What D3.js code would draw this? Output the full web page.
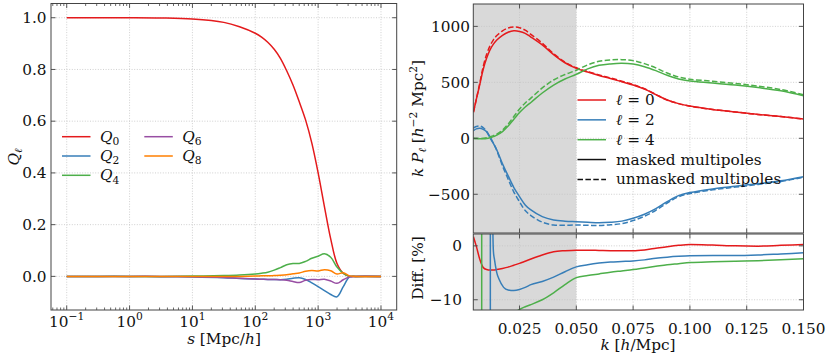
<!DOCTYPE html>
<html><head><meta charset="utf-8">
<script src="https://cdn.jsdelivr.net/npm/d3@7/dist/d3.min.js"></script>
<style>
body{margin:0;background:#fff}
svg{display:block}
text{font-family:"DejaVu Serif",serif;fill:#111}
</style>
</head><body>
<svg id="c" width="831" height="359"></svg>
<script>
// ---------- Left panel data: window multipoles Q_l(s) ----------
const sVals = [0.1, 0.316, 1, 3.16, 10, 31.6, 56.2, 100, 126, 158, 200, 251, 316, 398, 501, 631, 794, 1000, 1259, 1585, 1995, 2512, 3162, 3981, 10000];
const Q0 = [1.0, 1.0, 1.0, 0.999, 0.995, 0.982, 0.965, 0.940, 0.925, 0.905, 0.878, 0.843, 0.795, 0.740, 0.675, 0.605, 0.515, 0.400, 0.270, 0.145, 0.050, 0.012, 0.0, 0.0, 0.0];
const Q2 = [0, 0, 0, -0.001, -0.002, -0.005, -0.008, -0.010, -0.011, -0.012, -0.012, -0.013, -0.011, -0.007, -0.005, -0.012, -0.025, -0.040, -0.055, -0.070, -0.079, -0.040, -0.002, 0, 0];
const Q4 = [0, 0, 0, 0, 0.001, 0.003, 0.005, 0.009, 0.012, 0.016, 0.024, 0.034, 0.045, 0.050, 0.050, 0.058, 0.070, 0.078, 0.087, 0.074, 0.036, 0.012, 0.0, 0, 0];
const Q6 = [0, 0, 0, 0, -0.001, -0.004, -0.007, -0.010, -0.011, -0.012, -0.012, -0.013, -0.015, -0.020, -0.024, -0.015, -0.012, -0.013, -0.011, -0.018, -0.027, -0.013, -0.002, 0, 0];
const Q8 = [0, 0, 0, 0, 0, 0, 0, 0.001, 0.002, 0.002, 0.003, 0.004, 0.006, 0.010, 0.013, 0.020, 0.023, 0.021, 0.026, 0.022, 0.009, 0.014, 0.002, 0, 0];
const qNames = ["0", "2", "4", "6", "8"];
const sTicks = [0.1, 1, 10, 100, 1000, 10000];
const sTickExp = ["\u22121", "0", "1", "2", "3", "4"];
const qTicks = [0.0, 0.2, 0.4, 0.6, 0.8, 1.0];

// ---------- Right panel data: k P_l(k) ----------
const kVals = [0.0047, 0.006, 0.0075, 0.009, 0.0105, 0.012, 0.0135, 0.015, 0.0175, 0.02, 0.0225, 0.025, 0.0275, 0.03, 0.035, 0.04, 0.045, 0.05, 0.055, 0.06, 0.065, 0.07, 0.075, 0.08, 0.085, 0.09, 0.095, 0.1, 0.11, 0.12, 0.13, 0.14, 0.15];
const P0masked   = [235, 350, 480, 615, 715, 790, 842, 878, 920, 948, 960, 955, 938, 905, 835, 748, 675, 625, 592, 562, 535, 505, 476, 440, 390, 342, 310, 288, 258, 235, 213, 195, 172];
const P0unmasked = [231, 351, 492, 640, 748, 826, 880, 918, 960, 986, 995, 988, 966, 928, 850, 756, 681, 630, 597, 567, 540, 510, 480, 443, 392, 342, 310, 287, 258, 235, 213, 195, 172];
const P2masked   = [68, 84, 89, 80, 60, 14, -45, -104, -228, -336, -440, -521, -595, -640, -700, -729, -740, -745, -750, -754, -750, -740, -714, -678, -628, -566, -512, -485, -452, -428, -405, -380, -343];
const P2unmasked = [92, 106, 110, 95, 62, 3, -46, -110, -246, -365, -480, -567, -645, -690, -749, -774, -776, -775, -777, -779, -773, -762, -735, -696, -643, -578, -522, -494, -460, -436, -412, -386, -348];
const P4masked   = [0, -2, -3, -3, -1, 5, 15, 28, 60, 110, 170, 230, 280, 320, 405, 476, 530, 572, 620, 652, 665, 670, 663, 640, 605, 563, 530, 512, 495, 476, 453, 425, 380];
const P4unmasked = [-1, -2, -1.5, 1, 5, 13, 24, 36, 73, 128, 195, 261, 316, 359, 450, 521, 570, 608, 656, 688, 700, 703, 694, 667, 629, 583, 548, 528, 510, 490, 466, 436, 389];
const pTicks = [-500, 0, 500, 1000];
const kTicks = [0.025, 0.05, 0.075, 0.1, 0.125, 0.15];
const maskEdge = 0.05;

// ---------- Relative difference [%] ----------
const kDiff0 = kVals;
const Diff0 = [1.7, -0.1, -2.5, -4.0, -4.4, -4.5, -4.5, -4.4, -4.2, -3.95, -3.6, -3.25, -2.85, -2.45, -1.7, -1.1, -0.9, -0.8, -0.8, -0.85, -0.9, -0.9, -0.9, -0.75, -0.45, -0.15, 0.1, 0.25, 0.15, 0.0, -0.05, 0.1, 0.25];
const kDiff2 = [0.0047, 0.006, 0.0075, 0.009, 0.0105, 0.012, 0.0121, 0.0122, 0.0127, 0.013, 0.0132, 0.0135, 0.014, 0.015, 0.016, 0.018, 0.02, 0.0225, 0.025, 0.0275, 0.03, 0.035, 0.04, 0.045, 0.05, 0.055, 0.06, 0.065, 0.07, 0.075, 0.08, 0.085, 0.09, 0.095, 0.1, 0.11, 0.12, 0.13, 0.14, 0.15];
const Diff2 = [-30, -22, -20, -25, -45, -300, -3000, 3000, 300, 30, 5, -1.0, -2.6, -5.0, -6.2, -7.7, -8.2, -8.3, -8.1, -7.7, -7.2, -6.6, -5.8, -4.8, -3.9, -3.5, -3.2, -3.0, -2.9, -2.8, -2.6, -2.3, -2.1, -1.95, -1.85, -1.8, -1.8, -1.7, -1.5, -1.3];
const kDiff4 = [0.0047, 0.006, 0.0075, 0.0083, 0.0084, 0.009, 0.0105, 0.012, 0.0135, 0.015, 0.0175, 0.02, 0.0225, 0.025, 0.0275, 0.03, 0.035, 0.04, 0.045, 0.05, 0.055, 0.06, 0.065, 0.07, 0.075, 0.08, 0.085, 0.09, 0.095, 0.1, 0.11, 0.12, 0.13, 0.14, 0.15];
const Diff4 = [60, 100, 250, 3000, -3000, -400, -120, -60, -35, -25, -18, -14.5, -12.6, -11.8, -11.3, -10.9, -10.0, -8.7, -7.2, -5.9, -5.5, -5.2, -4.9, -4.65, -4.4, -4.1, -3.8, -3.5, -3.3, -3.1, -2.95, -2.85, -2.75, -2.6, -2.4];
const diffTicks = [-10, 0];

const colors = {red:"#e41a1c", blue:"#377eb8", green:"#4daf4a", purple:"#984ea3", orange:"#ff7f00"};
const FS = 15.3;
const svg = d3.select("#c");
const SPINE = "#444", GRID = "#c4c4c4";

// rich text helper: parts [{t, it, sub, sup}]
function rich(sel, parts, fs) {
  let cur = 0;
  parts.forEach(p => {
    const target = p.sub ? fs * 0.22 : p.sup ? -fs * 0.42 : 0;
    const ts = sel.append("tspan").text(p.t).attr("dy", target - cur);
    cur = target;
    if (p.it) ts.attr("font-style", "italic");
    if (p.sub || p.sup) ts.attr("font-size", fs * 0.7);
  });
  return sel;
}

// ================= LEFT PANEL =================
const L = {x0: 51, x1: 396.7, y0: 3.5, y1: 310};
const xs = d3.scaleLog().domain([Math.pow(10, -1.25), Math.pow(10, 4.25)]).range([L.x0, L.x1]);
const yq = d3.scaleLinear().domain([-0.13, 1.055]).range([L.y1, L.y0]);
const gL = svg.append("g");
svg.append("clipPath").attr("id", "clipL").append("rect")
  .attr("x", L.x0).attr("y", L.y0).attr("width", L.x1 - L.x0).attr("height", L.y1 - L.y0);

// grid
sTicks.forEach(v => gL.append("line").attr("x1", xs(v)).attr("x2", xs(v)).attr("y1", L.y0).attr("y2", L.y1)
  .attr("stroke", GRID).attr("stroke-width", 0.8).attr("stroke-dasharray", "1,1.6"));
qTicks.forEach(v => gL.append("line").attr("x1", L.x0).attr("x2", L.x1).attr("y1", yq(v)).attr("y2", yq(v))
  .attr("stroke", GRID).attr("stroke-width", 0.8).attr("stroke-dasharray", "1,1.6"));

const lineQ = d3.line().x(d => xs(d[0])).y(d => yq(d[1])).curve(d3.curveCatmullRom.alpha(0.5));
const qSeries = [[Q0, colors.red], [Q2, colors.blue], [Q4, colors.green], [Q6, colors.purple], [Q8, colors.orange]];
const gLc = gL.append("g").attr("clip-path", "url(#clipL)");
qSeries.forEach(([arr, c]) => {
  gLc.append("path").attr("d", lineQ(sVals.map((s, i) => [s, arr[i]])))
    .attr("fill", "none").attr("stroke", c).attr("stroke-width", 1.5);
});

// spines
gL.append("rect").attr("x", L.x0).attr("y", L.y0).attr("width", L.x1 - L.x0).attr("height", L.y1 - L.y0)
  .attr("fill", "none").attr("stroke", SPINE).attr("stroke-width", 1);

// ticks
const minorS = [];
for (let e = -2; e <= 4; e++) for (let m = 2; m <= 9; m++) {
  const v = m * Math.pow(10, e);
  if (xs(v) > L.x0 && xs(v) < L.x1) minorS.push(v);
}
minorS.forEach(v => {
  gL.append("line").attr("x1", xs(v)).attr("x2", xs(v)).attr("y1", L.y1).attr("y2", L.y1 - 2.5).attr("stroke", SPINE).attr("stroke-width", 0.8);
  gL.append("line").attr("x1", xs(v)).attr("x2", xs(v)).attr("y1", L.y0).attr("y2", L.y0 + 2.5).attr("stroke", SPINE).attr("stroke-width", 0.8);
});
sTicks.forEach((v, i) => {
  gL.append("line").attr("x1", xs(v)).attr("x2", xs(v)).attr("y1", L.y1).attr("y2", L.y1 - 4.5).attr("stroke", SPINE).attr("stroke-width", 0.9);
  gL.append("line").attr("x1", xs(v)).attr("x2", xs(v)).attr("y1", L.y0).attr("y2", L.y0 + 4.5).attr("stroke", SPINE).attr("stroke-width", 0.9);
  const t = gL.append("text").attr("x", xs(v)).attr("y", 326.5).attr("text-anchor", "middle").attr("font-size", FS);
  rich(t, [{t: "10"}, {t: sTickExp[i], sup: true}], FS);
});
qTicks.forEach(v => {
  gL.append("line").attr("x1", L.x0).attr("x2", L.x0 + 4.5).attr("y1", yq(v)).attr("y2", yq(v)).attr("stroke", SPINE).attr("stroke-width", 0.9);
  gL.append("line").attr("x1", L.x1).attr("x2", L.x1 - 4.5).attr("y1", yq(v)).attr("y2", yq(v)).attr("stroke", SPINE).attr("stroke-width", 0.9);
  gL.append("text").attr("x", 46.5).attr("y", yq(v) + 5.3).attr("text-anchor", "end").attr("font-size", FS).text(v.toFixed(1));
});
// axis labels
rich(gL.append("text").attr("x", 224).attr("y", 344).attr("text-anchor", "middle").attr("font-size", FS),
  [{t: "s", it: true}, {t: " [Mpc/"}, {t: "h", it: true}, {t: "]"}], FS);
rich(gL.append("text").attr("transform", "translate(19,157) rotate(-90)").attr("text-anchor", "middle").attr("font-size", FS),
  [{t: "Q", it: true}, {t: "\u2113", it: true, sub: true}], FS);

// legend
const legPos = [[62, 136.7], [62, 156], [62, 175.3], [144.3, 136.7], [144.3, 156]];
qSeries.forEach(([arr, c], i) => {
  const [lx, ly] = legPos[i];
  gL.append("line").attr("x1", lx).attr("x2", lx + 28.5).attr("y1", ly).attr("y2", ly).attr("stroke", c).attr("stroke-width", 1.5);
  rich(gL.append("text").attr("x", lx + 38).attr("y", ly + 5).attr("font-size", FS),
    [{t: "Q", it: true}, {t: qNames[i], sub: true}], FS);
});

// ================= RIGHT PANELS =================
const R = {x0: 473.3, x1: 803.5, yt0: 4, yt1: 233, yb0: 234, yb1: 310};
const xk = d3.scaleLinear().domain([0.00465, 0.15]).range([R.x0, R.x1]);
const yp = d3.scaleLinear().domain([-846, 1200]).range([R.yt1, R.yt0]);
const yd = d3.scaleLinear().domain([-11.9, 2.2]).range([R.yb1, R.yb0]);
const gR = svg.append("g");
svg.append("clipPath").attr("id", "clipRT").append("rect")
  .attr("x", R.x0).attr("y", R.yt0).attr("width", R.x1 - R.x0).attr("height", R.yt1 - R.yt0);
svg.append("clipPath").attr("id", "clipRB").append("rect")
  .attr("x", R.x0).attr("y", R.yb0).attr("width", R.x1 - R.x0).attr("height", R.yb1 - R.yb0);

// masked region shading
gR.append("rect").attr("x", R.x0).attr("y", R.yt0).attr("width", xk(maskEdge) - R.x0).attr("height", R.yt1 - R.yt0).attr("fill", "#d9d9d9");
gR.append("rect").attr("x", R.x0).attr("y", R.yb0).attr("width", xk(maskEdge) - R.x0).attr("height", R.yb1 - R.yb0).attr("fill", "#d9d9d9");

// grids
kTicks.filter(v => v < 0.149).forEach(v => {
  [[R.yt0, R.yt1], [R.yb0, R.yb1]].forEach(([a, b]) =>
    gR.append("line").attr("x1", xk(v)).attr("x2", xk(v)).attr("y1", a).attr("y2", b)
      .attr("stroke", GRID).attr("stroke-width", 0.8).attr("stroke-dasharray", "1,1.6"));
});
pTicks.forEach(v => gR.append("line").attr("x1", R.x0).attr("x2", R.x1).attr("y1", yp(v)).attr("y2", yp(v))
  .attr("stroke", GRID).attr("stroke-width", 0.8).attr("stroke-dasharray", "1,1.6"));
diffTicks.forEach(v => gR.append("line").attr("x1", R.x0).attr("x2", R.x1).attr("y1", yd(v)).attr("y2", yd(v))
  .attr("stroke", GRID).attr("stroke-width", 0.8).attr("stroke-dasharray", "1,1.6"));

// curves top
const lineP = d3.line().x(d => xk(d[0])).y(d => yp(d[1])).curve(d3.curveCatmullRom.alpha(0.5));
const gRt = gR.append("g").attr("clip-path", "url(#clipRT)");
const pSeries = [
  [P0unmasked, colors.red, true], [P0masked, colors.red, false],
  [P2unmasked, colors.blue, true], [P2masked, colors.blue, false],
  [P4unmasked, colors.green, true], [P4masked, colors.green, false]
];
pSeries.forEach(([arr, c, dashed]) => {
  gRt.append("path").attr("d", lineP(kVals.map((k, i) => [k, arr[i]])))
    .attr("fill", "none").attr("stroke", c).attr("stroke-width", 1.5)
    .attr("stroke-dasharray", dashed ? "5.5,2.4" : null);
});

// curves bottom
const lineD = d3.line().x(d => xk(d[0])).y(d => yd(d[1])).curve(d3.curveMonotoneX);
const gRb = gR.append("g").attr("clip-path", "url(#clipRB)");
[[kDiff0, Diff0, colors.red], [kDiff2, Diff2, colors.blue], [kDiff4, Diff4, colors.green]].forEach(([ks, arr, c]) => {
  gRb.append("path").attr("d", lineD(ks.map((k, i) => [k, arr[i]])))
    .attr("fill", "none").attr("stroke", c).attr("stroke-width", 1.5);
});

// spines
gR.append("rect").attr("x", R.x0).attr("y", R.yt0).attr("width", R.x1 - R.x0).attr("height", R.yt1 - R.yt0)
  .attr("fill", "none").attr("stroke", SPINE).attr("stroke-width", 1);
gR.append("rect").attr("x", R.x0).attr("y", R.yb0).attr("width", R.x1 - R.x0).attr("height", R.yb1 - R.yb0)
  .attr("fill", "none").attr("stroke", SPINE).attr("stroke-width", 1);

// ticks
kTicks.forEach(v => {
  [[R.yt0, 1], [R.yt1, -1], [R.yb0, 1], [R.yb1, -1]].forEach(([y, d]) =>
    gR.append("line").attr("x1", xk(v)).attr("x2", xk(v)).attr("y1", y).attr("y2", y + d * 4.5).attr("stroke", SPINE).attr("stroke-width", 0.9));
  gR.append("text").attr("x", xk(v)).attr("y", 333.5).attr("text-anchor", "middle").attr("font-size", FS).text(v.toFixed(3));
});
const fmtMinus = v => (v < 0 ? "\u2212" : "") + Math.abs(v);
pTicks.forEach(v => {
  gR.append("line").attr("x1", R.x0).attr("x2", R.x0 + 4.5).attr("y1", yp(v)).attr("y2", yp(v)).attr("stroke", SPINE).attr("stroke-width", 0.9);
  gR.append("line").attr("x1", R.x1).attr("x2", R.x1 - 4.5).attr("y1", yp(v)).attr("y2", yp(v)).attr("stroke", SPINE).attr("stroke-width", 0.9);
  gR.append("text").attr("x", 470).attr("y", yp(v) + 5.3).attr("text-anchor", "end").attr("font-size", FS).text(fmtMinus(v));
});
diffTicks.forEach(v => {
  gR.append("line").attr("x1", R.x0).attr("x2", R.x0 + 4.5).attr("y1", yd(v)).attr("y2", yd(v)).attr("stroke", SPINE).attr("stroke-width", 0.9);
  gR.append("line").attr("x1", R.x1).attr("x2", R.x1 - 4.5).attr("y1", yd(v)).attr("y2", yd(v)).attr("stroke", SPINE).attr("stroke-width", 0.9);
  gR.append("text").attr("x", 462).attr("y", yd(v) + 5.3).attr("text-anchor", "end").attr("font-size", FS).text(fmtMinus(v));
});

// axis labels
rich(gR.append("text").attr("x", 638).attr("y", 350).attr("text-anchor", "middle").attr("font-size", FS),
  [{t: "k", it: true}, {t: " ["}, {t: "h", it: true}, {t: "/Mpc]"}], FS);
rich(gR.append("text").attr("transform", "translate(423,118.5) rotate(-90)").attr("text-anchor", "middle").attr("font-size", FS),
  [{t: "k", it: true}, {t: " "}, {t: "P", it: true}, {t: "\u2113", it: true, sub: true}, {t: " ["}, {t: "h", it: true},
   {t: "\u22122", sup: true}, {t: " Mpc"}, {t: "2", sup: true}, {t: "]"}], FS);
gR.append("text").attr("transform", "translate(423,268) rotate(-90)").attr("text-anchor", "middle").attr("font-size", FS).text("Diff. [%]");

// legend
const legR = [
  {c: colors.red, dash: false, parts: [{t: "\u2113", it: true}, {t: " = 0"}]},
  {c: colors.blue, dash: false, parts: [{t: "\u2113", it: true}, {t: " = 2"}]},
  {c: colors.green, dash: false, parts: [{t: "\u2113", it: true}, {t: " = 4"}]},
  {c: "#111", dash: false, parts: [{t: "masked multipoles"}]},
  {c: "#111", dash: true, parts: [{t: "unmasked multipoles"}]}
];
legR.forEach((e, i) => {
  const ly = 100 + i * 19.85;
  gR.append("line").attr("x1", 577.5).attr("x2", 606).attr("y1", ly).attr("y2", ly)
    .attr("stroke", e.c).attr("stroke-width", 1.5).attr("stroke-dasharray", e.dash ? "5.5,2.4" : null);
  rich(gR.append("text").attr("x", 616).attr("y", ly + 5).attr("font-size", FS), e.parts, FS);
});
</script>
</body></html>
